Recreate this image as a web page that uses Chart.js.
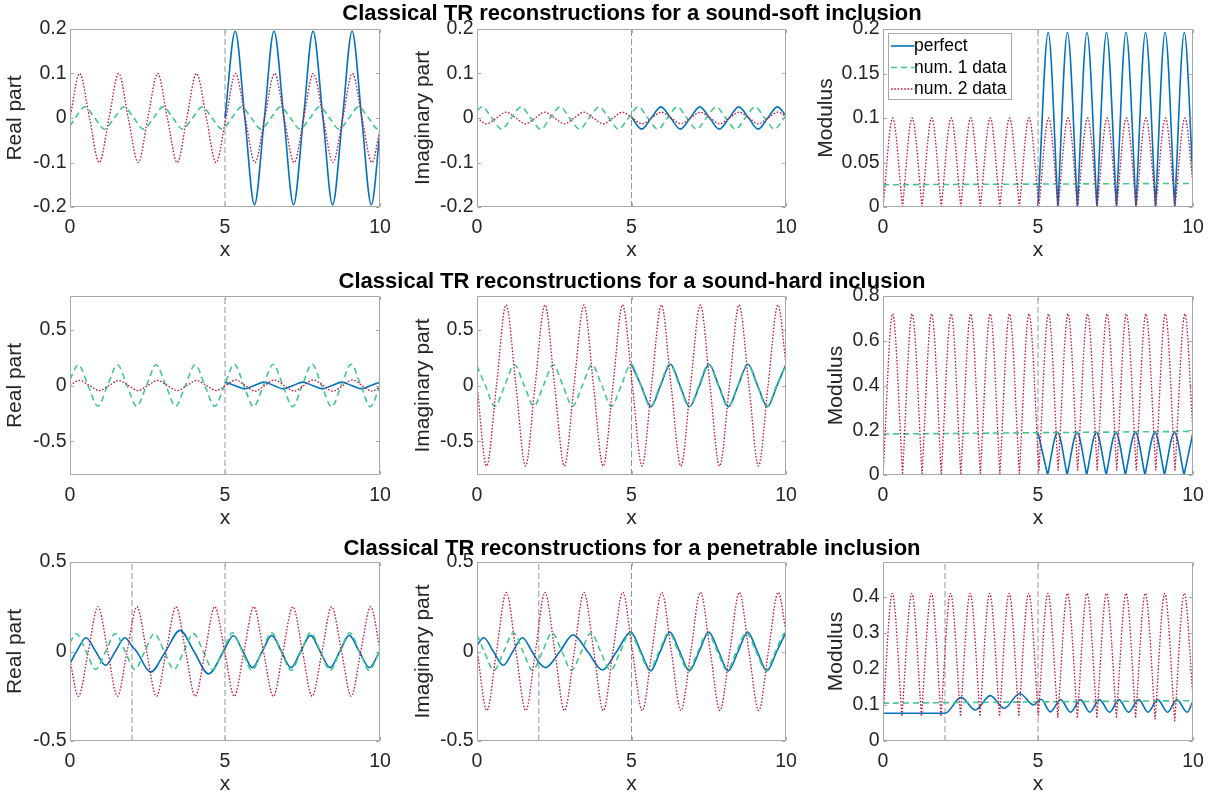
<!DOCTYPE html>
<html><head><meta charset="utf-8">
<script src="https://cdn.jsdelivr.net/npm/chart.js@4.4.1/dist/chart.umd.min.js"></script>
<style>
html,body{margin:0;padding:0;background:#fff;}
#root{position:relative;width:1220px;height:800px;overflow:hidden;background:#fff;font-family:'Liberation Sans',Arial,Helvetica,sans-serif;}
.ttl{position:absolute;left:132px;width:1000px;text-align:center;font-weight:bold;font-size:22px;line-height:24px;color:#000;z-index:2;white-space:nowrap;}
canvas{position:absolute;z-index:1;}
</style></head><body><div id="root"></div>
<script>
// ---------------- DATA ----------------
const rowTitles = [
  'Classical TR reconstructions for a sound-soft inclusion',
  'Classical TR reconstructions for a sound-hard inclusion',
  'Classical TR reconstructions for a penetrable inclusion'
];
const legendLabels = ['perfect', 'num. 1 data', 'num. 2 data'];
const xTicks = [0, 5, 10];
const yTicksSoft = [-0.2, -0.1, 0, 0.1, 0.2];
const yTicksSoftMod = [0, 0.05, 0.1, 0.15, 0.2];
const yTicksHard = [-0.5, 0, 0.5];
const yTicksHardMod = [0, 0.2, 0.4, 0.6, 0.8];
const yTicksPen = [-0.5, 0, 0.5];
const yTicksPenMod = [0, 0.1, 0.2, 0.3, 0.4];
const vlinesSoft = [5];
const vlinesHard = [5];
const vlinesPen = [2, 5];

// sound-soft
const softRe_perfect = [[5,0],[5.33,0.195],[5.64,0],[5.95,-0.195],[6.27,0],[6.58,0.195],[6.90,0],[7.21,-0.195],[7.53,0],[7.84,0.195],[8.16,0],[8.47,-0.195],[8.79,0],[9.10,0.195],[9.41,0],[9.72,-0.195],[10,-0.03]];
const softRe_num1 = [[0,-0.018],[0.17,0],[0.48,0.025],[0.80,0],[1.11,-0.025],[1.43,0],[1.74,0.025],[2.06,0],[2.37,-0.025],[2.69,0],[3.00,0.025],[3.32,0],[3.63,-0.025],[3.95,0],[4.27,0.025],[4.58,0],[4.90,-0.025],[5.22,0],[5.53,0.025],[5.85,0],[6.16,-0.025],[6.48,0],[6.79,0.025],[7.11,0],[7.42,-0.025],[7.74,0],[8.05,0.025],[8.37,0],[8.68,-0.025],[9.00,0],[9.31,0.025],[9.63,0],[9.94,-0.025],[10,-0.025]];
const softRe_num2 = [[0,0],[0.31,0.1],[0.63,0],[0.94,-0.1],[1.26,0],[1.57,0.1],[1.88,0],[2.20,-0.1],[2.51,0],[2.83,0.1],[3.14,0],[3.46,-0.1],[3.77,0],[4.08,0.1],[4.40,0],[4.71,-0.1],[5.03,0],[5.34,0.1],[5.65,0],[5.97,-0.1],[6.28,0],[6.60,0.1],[6.91,0],[7.23,-0.1],[7.54,0],[7.85,0.1],[8.17,0],[8.48,-0.1],[8.80,0],[9.11,0.1],[9.42,0],[9.74,-0.1],[10,-0.026]];
const softIm_perfect = [[5,0.002],[5.33,-0.025],[5.64,0],[5.95,0.025],[6.27,0],[6.58,-0.025],[6.90,0],[7.21,0.025],[7.53,0],[7.84,-0.025],[8.16,0],[8.47,0.025],[8.79,0],[9.10,-0.025],[9.41,0],[9.72,0.025],[10,0.005]];
const softIm_num1 = [[0,0.017],[0.165,0.025],[0.48,0],[0.80,-0.025],[1.11,0],[1.43,0.025],[1.74,0],[2.06,-0.025],[2.37,0],[2.69,0.025],[3.00,0],[3.32,-0.025],[3.63,0],[3.95,0.025],[4.27,0],[4.58,-0.025],[4.90,0],[5.22,0.025],[5.53,0],[5.85,-0.025],[6.16,0],[6.48,0.025],[6.79,0],[7.11,-0.025],[7.42,0],[7.74,0.025],[8.05,0],[8.37,-0.025],[8.68,0],[9.00,0.025],[9.31,0],[9.63,-0.025],[9.94,0],[10,0.005]];
const softIm_num2 = [[0,0],[0.31,-0.013],[0.63,0],[0.94,0.013],[1.26,0],[1.57,-0.013],[1.88,0],[2.20,0.013],[2.51,0],[2.83,-0.013],[3.14,0],[3.46,0.013],[3.77,0],[4.08,-0.013],[4.40,0],[4.71,0.013],[5.03,0],[5.34,-0.013],[5.65,0],[5.97,0.013],[6.28,0],[6.60,-0.013],[6.91,0],[7.23,0.013],[7.54,0],[7.85,-0.013],[8.17,0],[8.48,0.013],[8.80,0],[9.11,-0.013],[9.42,0],[9.74,0.013],[10,0.004]];
const softMod_perfect = [[5,0],[5.33,0.196],[5.64,0],[5.95,0.196],[6.27,0],[6.58,0.196],[6.90,0],[7.21,0.196],[7.53,0],[7.84,0.196],[8.16,0],[8.47,0.196],[8.79,0],[9.10,0.196],[9.41,0],[9.72,0.196],[10,0.03]];
const softMod_num1 = [[0,0.025],[10,0.0265]];
const softMod_num2 = [[0,0],[0.31,0.1],[0.63,0],[0.94,0.1],[1.26,0],[1.57,0.1],[1.88,0],[2.20,0.1],[2.51,0],[2.83,0.1],[3.14,0],[3.46,0.1],[3.77,0],[4.08,0.1],[4.40,0],[4.71,0.1],[5.03,0],[5.34,0.1],[5.65,0],[5.97,0.1],[6.28,0],[6.60,0.1],[6.91,0],[7.23,0.1],[7.54,0],[7.85,0.1],[8.17,0],[8.48,0.1],[8.80,0],[9.11,0.1],[9.42,0],[9.74,0.1],[10,0.026]];

// sound-hard
const hardRe_perfect = [[5,0.03],[5.31,0],[5.63,-0.03],[5.94,0],[6.26,0.03],[6.57,0],[6.88,-0.03],[7.20,0],[7.51,0.03],[7.82,0],[8.14,-0.03],[8.45,0],[8.77,0.03],[9.08,0],[9.40,-0.03],[9.71,0],[10,0.03]];
const hardRe_num1 = [[0,0.055],[0.27,0.185],[0.58,0],[0.90,-0.185],[1.21,0],[1.53,0.185],[1.84,0],[2.15,-0.185],[2.47,0],[2.78,0.185],[3.09,0],[3.41,-0.185],[3.72,0],[4.04,0.185],[4.35,0],[4.67,-0.185],[4.98,0],[5.30,0.19],[5.61,0],[5.92,-0.19],[6.24,0],[6.55,0.19],[6.87,0],[7.18,-0.19],[7.49,0],[7.81,0.19],[8.12,0],[8.44,-0.19],[8.75,0],[9.07,0.19],[9.38,0],[9.69,-0.19],[10,0]];
const hardRe_num2 = [[0,0],[0.31,0.045],[0.63,0],[0.94,-0.045],[1.26,0],[1.57,0.045],[1.88,0],[2.20,-0.045],[2.51,0],[2.83,0.045],[3.14,0],[3.46,-0.045],[3.77,0],[4.08,0.045],[4.40,0],[4.71,-0.045],[5.03,0],[5.34,0.05],[5.65,0],[5.97,-0.05],[6.28,0],[6.60,0.05],[6.91,0],[7.23,-0.05],[7.54,0],[7.85,0.05],[8.17,0],[8.48,-0.05],[8.80,0],[9.11,0.05],[9.42,0],[9.74,-0.05],[10,-0.013]];
const hardIm_perfect = [[5,0.19],[5.31,0],[5.63,-0.19],[5.94,0],[6.26,0.19],[6.57,0],[6.88,-0.19],[7.20,0],[7.51,0.19],[7.82,0],[8.14,-0.19],[8.45,0],[8.77,0.19],[9.08,0],[9.40,-0.19],[9.71,0],[10,0.19]];
const hardIm_num1 = [[0,0.175],[0.27,0],[0.58,-0.185],[0.90,0],[1.21,0.185],[1.53,0],[1.84,-0.185],[2.15,0],[2.47,0.185],[2.78,0],[3.09,-0.185],[3.41,0],[3.72,0.185],[4.04,0],[4.35,-0.185],[4.67,0],[4.98,0.19],[5.30,0],[5.61,-0.19],[5.92,0],[6.24,0.19],[6.55,0],[6.87,-0.19],[7.18,0],[7.49,0.19],[7.81,0],[8.12,-0.19],[8.44,0],[8.75,0.19],[9.07,0],[9.38,-0.19],[9.69,0],[10,0.19]];
const hardIm_num2 = [[0,0],[0.31,-0.72],[0.63,0],[0.94,0.72],[1.26,0],[1.57,-0.72],[1.88,0],[2.20,0.72],[2.51,0],[2.83,-0.72],[3.14,0],[3.46,0.72],[3.77,0],[4.08,-0.72],[4.40,0],[4.71,0.72],[5.03,0],[5.34,-0.72],[5.65,0],[5.97,0.72],[6.28,0],[6.60,-0.72],[6.91,0],[7.23,0.72],[7.54,0],[7.85,-0.72],[8.17,0],[8.48,0.72],[8.80,0],[9.11,-0.72],[9.42,0],[9.74,0.72],[10,0.19]];
const hardMod_perfect = [[5,0.19],[5.31,0],[5.63,0.19],[5.94,0],[6.26,0.19],[6.57,0],[6.88,0.19],[7.20,0],[7.51,0.19],[7.82,0],[8.14,0.19],[8.45,0],[8.77,0.19],[9.08,0],[9.40,0.19],[9.71,0],[10,0.19]];
const hardMod_num1 = [[0,0.183],[10,0.195]];
const hardMod_num2 = [[0,0],[0.31,0.72],[0.63,0.005],[0.94,0.72],[1.26,0.005],[1.57,0.72],[1.88,0.005],[2.20,0.72],[2.51,0.005],[2.83,0.72],[3.14,0.005],[3.46,0.72],[3.77,0.005],[4.08,0.72],[4.40,0.005],[4.71,0.72],[5.03,0.02],[5.34,0.72],[5.65,0.02],[5.97,0.72],[6.28,0.02],[6.60,0.72],[6.91,0.02],[7.23,0.72],[7.54,0.02],[7.85,0.72],[8.17,0.02],[8.48,0.72],[8.80,0.02],[9.11,0.72],[9.42,0.02],[9.74,0.72],[10,0.19]];

// penetrable
const penRe_perfect = [[0,-0.066],[0.21,0],[0.52,0.077],[0.83,0],[1.15,-0.077],[1.46,0],[1.77,0.077],[2,0.03],[2.15,0],[2.6,-0.115],[3.08,0],[3.55,0.118],[4.0,0],[4.47,-0.125],[4.95,0],[5.27,0.088],[5.58,0],[5.88,-0.09],[6.2,0],[6.51,0.09],[6.82,0],[7.13,-0.09],[7.44,0],[7.76,0.09],[8.07,0],[8.39,-0.09],[8.7,0],[9.01,0.09],[9.33,0],[9.66,-0.09],[10,0.005]];
const penRe_num1 = [[0,0.05],[0.2,0.1],[0.52,0],[0.83,-0.1],[1.15,0],[1.46,0.1],[1.78,0],[2.09,-0.1],[2.41,0],[2.72,0.1],[3.04,0],[3.35,-0.1],[3.67,0],[3.98,0.1],[4.30,0],[4.61,-0.1],[4.93,0],[5.24,0.105],[5.56,0],[5.87,-0.105],[6.19,0],[6.5,0.105],[6.82,0],[7.13,-0.105],[7.45,0],[7.76,0.105],[8.08,0],[8.39,-0.105],[8.71,0],[9.02,0.105],[9.34,0],[9.65,-0.105],[10,0.01]];
const penRe_num2 = [[0,-0.05],[0.27,-0.25],[0.59,0],[0.90,0.25],[1.22,0],[1.53,-0.25],[1.84,0],[2.16,0.25],[2.47,0],[2.79,-0.25],[3.10,0],[3.42,0.25],[3.73,0],[4.04,-0.25],[4.36,0],[4.67,0.25],[4.99,0],[5.30,-0.25],[5.61,0],[5.93,0.25],[6.24,0],[6.56,-0.25],[6.87,0],[7.19,0.25],[7.50,0],[7.81,-0.25],[8.13,0],[8.44,0.25],[8.76,0],[9.07,-0.25],[9.38,0],[9.70,0.25],[10,0.01]];
const penIm_perfect = [[0,0.035],[0.22,0.077],[0.53,0],[0.85,-0.077],[1.16,0],[1.47,0.077],[1.78,0],[2.0,-0.06],[2.22,-0.09],[2.68,0],[3.11,0.093],[3.58,0],[4.06,-0.103],[4.52,0],[4.98,0.108],[5.30,0],[5.62,-0.108],[5.93,0],[6.24,0.108],[6.56,0],[6.87,-0.108],[7.19,0],[7.50,0.108],[7.82,0],[8.13,-0.108],[8.45,0],[8.76,0.108],[9.07,0],[9.38,-0.108],[9.70,0],[10,0.108]];
const penIm_num1 = [[0,0.092],[0.235,0],[0.55,-0.105],[0.865,0],[1.18,0.105],[1.49,0],[1.80,-0.105],[2.12,0],[2.43,0.105],[2.75,0],[3.06,-0.105],[3.38,0],[3.69,0.105],[4.0,0],[4.32,-0.105],[4.64,0],[4.95,0.105],[5.27,0],[5.58,-0.105],[5.89,0],[6.21,0.105],[6.52,0],[6.83,-0.105],[7.15,0],[7.46,0.105],[7.78,0],[8.09,-0.105],[8.40,0],[8.72,0.105],[9.03,0],[9.35,-0.105],[9.66,0],[9.98,0.105],[10,0.105]];
const penIm_num2 = [[0,0.01],[0.32,-0.33],[0.63,0],[0.95,0.33],[1.26,0],[1.58,-0.33],[1.89,0],[2.20,0.33],[2.52,0],[2.83,-0.33],[3.15,0],[3.46,0.33],[3.78,0],[4.09,-0.33],[4.40,0],[4.72,0.33],[5.03,0],[5.35,-0.33],[5.66,0],[5.98,0.33],[6.29,0],[6.60,-0.33],[6.92,0],[7.23,0.33],[7.55,0],[7.86,-0.33],[8.18,0],[8.49,0.33],[8.80,0],[9.12,-0.33],[9.43,0],[9.75,0.33],[10,0.11]];
const penMod_perfect = [[0,0.077],[2,0.077],[2.52,0.121],[2.98,0.086],[3.46,0.126],[3.91,0.091],[4.41,0.132],[4.86,0.1],[5.1,0.116],[5.40,0.081],[5.73,0.115],[6.05,0.08],[6.37,0.115],[6.67,0.08],[6.98,0.115],[7.31,0.08],[7.61,0.115],[7.92,0.08],[8.25,0.115],[8.55,0.08],[8.86,0.115],[9.18,0.08],[9.48,0.115],[9.81,0.08],[10,0.11]];
const penMod_num1 = [[0,0.105],[10,0.112]];
const penMod_num2 = [[0,0.07],[0.30,0.41],[0.61,0.07],[0.93,0.41],[1.24,0.07],[1.56,0.41],[1.87,0.07],[2.18,0.41],[2.50,0.07],[2.81,0.41],[3.13,0.07],[3.44,0.41],[3.76,0.07],[4.07,0.41],[4.38,0.07],[4.70,0.41],[5.01,0.07],[5.32,0.41],[5.64,0.065],[5.95,0.41],[6.27,0.065],[6.58,0.41],[6.90,0.065],[7.21,0.41],[7.53,0.065],[7.84,0.41],[8.15,0.065],[8.46,0.41],[8.78,0.06],[9.09,0.41],[9.41,0.055],[9.72,0.41],[10,0.12]];

// ---------------- STYLE / LAYOUT ----------------
const FONT = "'Liberation Sans', Arial, Helvetica, sans-serif";
const C_PERFECT = '#0072BD', C_NUM1 = 'rgb(66,198,146)', C_NUM2 = 'rgb(200,20,62)';
const C_VLINE = 'rgb(150,150,150)', C_FRAME = '#a8a8a8', C_TEXT = '#262626';
const rowsL = [{top:29,bottom:207,title:1.3},{top:296,bottom:475,title:269.3},{top:562,bottom:741,title:536.3}];
const colsL = [{left:0,width:400,plotLeft:70,plotRight:380},{left:400,width:400,plotLeft:477,plotRight:786},{left:800,width:420,plotLeft:883,plotRight:1193}];
const PAD_TOP = 14, XAXIS_H = 60;

const panels = [
  {row:0,col:0,ylabel:'Real part',ytp:3,ymin:-0.2,ymax:0.2,yticks:yTicksSoft,vlines:vlinesSoft,s:[softRe_perfect,softRe_num1,softRe_num2]},
  {row:0,col:1,ylabel:'Imaginary part',ytp:10.5,ymin:-0.2,ymax:0.2,yticks:yTicksSoft,vlines:vlinesSoft,s:[softIm_perfect,softIm_num1,softIm_num2]},
  {row:0,col:2,ylabel:'Modulus',ytp:13.8,ymin:0,ymax:0.2,yticks:yTicksSoftMod,vlines:vlinesSoft,s:[softMod_perfect,softMod_num1,softMod_num2],cusp:[true,false,true],legend:true},
  {row:1,col:0,ylabel:'Real part',ytp:3,ymin:-0.8,ymax:0.8,yticks:yTicksHard,vlines:vlinesHard,s:[hardRe_perfect,hardRe_num1,hardRe_num2]},
  {row:1,col:1,ylabel:'Imaginary part',ytp:10.5,ymin:-0.8,ymax:0.8,yticks:yTicksHard,vlines:vlinesHard,s:[hardIm_perfect,hardIm_num1,hardIm_num2]},
  {row:1,col:2,ylabel:'Modulus',ytp:23.8,ymin:0,ymax:0.8,yticks:yTicksHardMod,vlines:vlinesHard,s:[hardMod_perfect,hardMod_num1,hardMod_num2],cusp:[true,false,true]},
  {row:2,col:0,ylabel:'Real part',ytp:3,ymin:-0.5,ymax:0.5,yticks:yTicksPen,vlines:vlinesPen,s:[penRe_perfect,penRe_num1,penRe_num2]},
  {row:2,col:1,ylabel:'Imaginary part',ytp:10.5,ymin:-0.5,ymax:0.5,yticks:yTicksPen,vlines:vlinesPen,s:[penIm_perfect,penIm_num1,penIm_num2]},
  {row:2,col:2,ylabel:'Modulus',ytp:23.8,ymin:0,ymax:0.497,yticks:yTicksPenMod,vlines:vlinesPen,s:[penMod_perfect,penMod_num1,penMod_num2],cusp:[false,false,true]}
];

const seriesStyle = [
  {color:C_PERFECT, width:1.6, dash:[], order:3},
  {color:C_NUM1, width:1.6, dash:[6,4], order:2},
  {color:C_NUM2, width:1.3, dash:[1.6,1.7], order:1}
];

function toPoints(pairs, cusp) {
  const out = [];
  pairs.forEach((p, i) => {
    out.push({x:p[0], y:p[1]});
    if (cusp && i > 0 && i < pairs.length - 1 && p[1] < pairs[i-1][1] && p[1] < pairs[i+1][1]) {
      out.push({x:p[0], y:null});
      out.push({x:p[0], y:p[1]});
    }
  });
  return out;
}

const framePlugin = {
  id: 'frame',
  afterDatasetsDraw(chart, args, opts) {
    const {ctx, chartArea: a} = chart;
    const xs = chart.scales.x, ys = chart.scales.y;
    const L = Math.round(a.left) + 0.5, R = Math.round(a.right) - 0.5;
    const T = Math.round(a.top) + 0.5, B = Math.round(a.bottom) - 0.5;
    const TK = 3.5;
    ctx.save();
    ctx.setLineDash([]);
    ctx.strokeStyle = C_FRAME; ctx.lineWidth = 1;
    ctx.beginPath();
    ctx.rect(L, T, R - L, B - T);
    ys.ticks.forEach(t => {
      const y = Math.round(ys.getPixelForValue(t.value)) + 0.5;
      ctx.moveTo(L, y); ctx.lineTo(L + TK, y);
      ctx.moveTo(R, y); ctx.lineTo(R - TK, y);
    });
    xs.ticks.forEach(t => {
      const x = Math.round(xs.getPixelForValue(t.value)) + 0.5;
      ctx.moveTo(x, B); ctx.lineTo(x, B - TK);
      ctx.moveTo(x, T); ctx.lineTo(x, T + TK);
    });
    ctx.stroke();
    if (opts && opts.legend) {
      const bx = Math.round(a.left) + 5.5, by = Math.round(a.top) + 4.5, bw = 123, bh = 66;
      ctx.fillStyle = '#fff';
      ctx.fillRect(bx, by, bw, bh);
      ctx.strokeStyle = C_FRAME;
      ctx.strokeRect(bx, by, bw, bh);
      const rowsY = [12.5, 34, 55.5];
      ctx.font = '17.5px ' + FONT;
      ctx.textBaseline = 'middle';
      ctx.textAlign = 'left';
      legendLabels.forEach((lab, i) => {
        const st = seriesStyle[i];
        const y = by + rowsY[i];
        ctx.beginPath();
        ctx.strokeStyle = st.color; ctx.lineWidth = st.width;
        ctx.setLineDash(st.dash);
        ctx.moveTo(bx + 2.5, y); ctx.lineTo(bx + 26, y);
        ctx.stroke();
        ctx.setLineDash([]);
        ctx.fillStyle = '#000';
        ctx.fillText(lab, bx + 25.5, y + 0.5);
      });
    }
    ctx.restore();
  }
};

const root = document.getElementById('root');
rowTitles.forEach((t, i) => {
  const d = document.createElement('div');
  d.className = 'ttl';
  d.style.top = rowsL[i].title + 'px';
  d.textContent = t;
  root.appendChild(d);
});

panels.forEach(p => {
  const r = rowsL[p.row], c = colsL[p.col];
  const h = PAD_TOP + (r.bottom - r.top) + XAXIS_H;
  const cv = document.createElement('canvas');
  cv.width = c.width; cv.height = h;
  cv.style.left = c.left + 'px'; cv.style.top = (r.top - PAD_TOP) + 'px';
  cv.style.width = c.width + 'px'; cv.style.height = h + 'px';
  root.appendChild(cv);
  const yw = c.plotLeft - c.left;
  const padR = c.left + c.width - c.plotRight;
  const datasets = [];
  p.vlines.forEach(v => datasets.push({
    data:[{x:v,y:p.ymin},{x:v,y:p.ymax}], borderColor:C_VLINE, borderWidth:1, borderDash:[6,3],
    pointRadius:0, fill:false, tension:0, order:4
  }));
  p.s.forEach((arr, i) => {
    const st = seriesStyle[i];
    datasets.push({
      label: legendLabels[i],
      data: toPoints(arr, p.cusp ? p.cusp[i] : false),
      borderColor: st.color, borderWidth: st.width, borderDash: st.dash,
      pointRadius: 0, fill: false, cubicInterpolationMode: 'monotone', spanGaps: false,
      order: st.order
    });
  });
  new Chart(cv, {
    type: 'line',
    data: {datasets},
    options: {
      responsive: false, animation: false, devicePixelRatio: 1, events: [],
      layout: {padding: {top: PAD_TOP, left: 0, right: padR, bottom: 0}},
      plugins: {legend: {display: false}, tooltip: {enabled: false}, frame: {legend: !!p.legend}},
      scales: {
        x: {
          type: 'linear', min: 0, max: 10,
          afterBuildTicks: s => { s.ticks = xTicks.map(v => ({value: v})); },
          afterFit: s => { s.height = XAXIS_H; s.paddingLeft = 0; s.paddingRight = 0; },
          grid: {display: false, drawTicks: false}, border: {display: false},
          ticks: {font: {family: FONT, size: 19.5}, color: C_TEXT, padding: 9, maxRotation: 0, autoSkip: false, callback: v => String(v)},
          title: {display: true, text: 'x', font: {family: FONT, size: 21}, color: C_TEXT, padding: {top: 0, bottom: 4.5}}
        },
        y: {
          type: 'linear', min: p.ymin, max: p.ymax,
          afterBuildTicks: s => { s.ticks = p.yticks.map(v => ({value: v})); },
          afterFit: s => { s.width = yw; s.paddingTop = 0; s.paddingBottom = 0; },
          grid: {display: false, drawTicks: false}, border: {display: false},
          ticks: {font: {family: FONT, size: 19.5}, color: C_TEXT, padding: 3.5, autoSkip: false, callback: v => String(v)},
          title: {display: true, text: p.ylabel, font: {family: FONT, size: 21}, color: C_TEXT, padding: {top: p.ytp, bottom: 0}}
        }
      }
    },
    plugins: [framePlugin]
  });
});
</script></body></html>
